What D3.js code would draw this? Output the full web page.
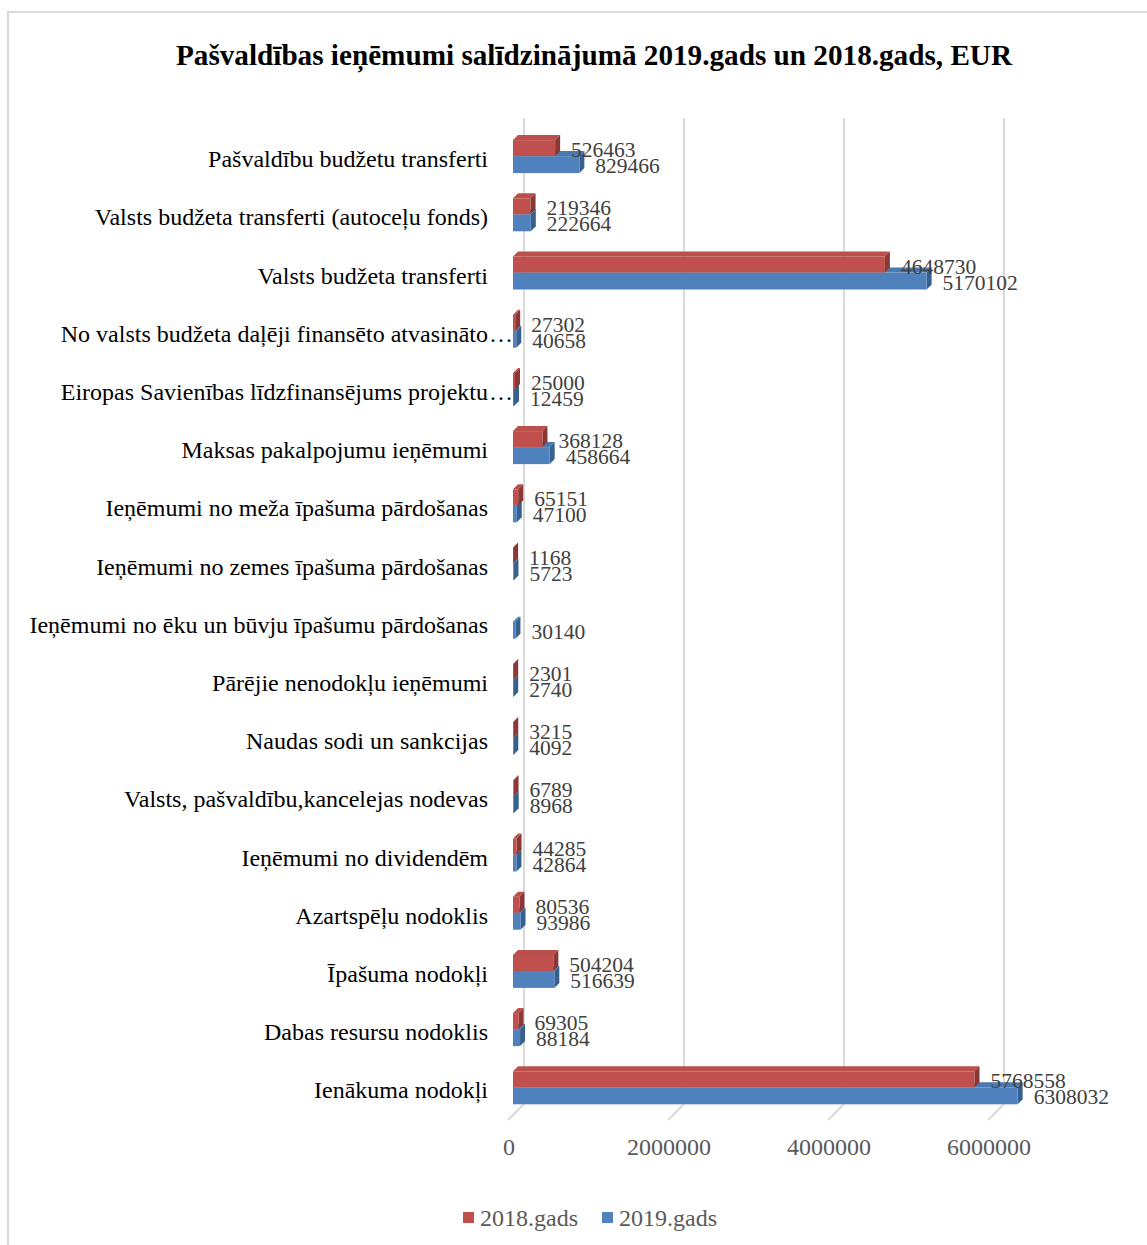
<!DOCTYPE html>
<html>
<head>
<meta charset="utf-8">
<script src="https://cdn.jsdelivr.net/npm/d3@7"></script>
<style>
  body { margin: 0; background: #fff; }
  svg { display: block; font-family: "Liberation Serif", "Times New Roman", serif; }
</style>
</head>
<body>
<div id="chart"></div>
<script>
const categories = [
  "Pašvaldību budžetu transferti",
  "Valsts budžeta transferti (autoceļu fonds)",
  "Valsts budžeta transferti",
  "No valsts budžeta daļēji finansēto atvasināto…",
  "Eiropas Savienības līdzfinansējums projektu…",
  "Maksas pakalpojumu ieņēmumi",
  "Ieņēmumi no meža īpašuma pārdošanas",
  "Ieņēmumi no zemes īpašuma pārdošanas",
  "Ieņēmumi no ēku un būvju īpašumu pārdošanas",
  "Pārējie nenodokļu ieņēmumi",
  "Naudas sodi un sankcijas",
  "Valsts, pašvaldību,kancelejas nodevas",
  "Ieņēmumi no dividendēm",
  "Azartspēļu nodoklis",
  "Īpašuma nodokļi",
  "Dabas resursu nodoklis",
  "Ienākuma nodokļi"
];
const values2018 = [526463, 219346, 4648730, 27302, 25000, 368128, 65151, 1168, null, 2301, 3215, 6789, 44285, 80536, 504204, 69305, 5768558];
const values2019 = [829466, 222664, 5170102, 40658, 12459, 458664, 47100, 5723, 30140, 2740, 4092, 8968, 42864, 93986, 516639, 88184, 6308032];
const xTicks = [0, 2000000, 4000000, 6000000];
const seriesNames = ["2018.gads", "2019.gads"];

const W = 1147, H = 1245;
const svg = d3.select("#chart").append("svg")
  .attr("width", W).attr("height", H)
  .attr("viewBox", "0 0 " + W + " " + H);

// frame
svg.append("rect")
  .attr("x", 8).attr("y", 12)
  .attr("width", 1200).attr("height", 1300)
  .attr("fill", "none").attr("stroke", "#d9d9d9").attr("stroke-width", 2);

svg.append("text")
  .attr("x", 594).attr("y", 65)
  .attr("text-anchor", "middle")
  .attr("font-weight", "bold")
  .attr("font-size", 29.2)
  .attr("fill", "#000")
  .text("Pašvaldības ieņēmumi salīdzinājumā 2019.gads un 2018.gads, EUR");

// 3d depth of bars and of the plot box
const dx = 5, dy = 5;
const wallDx = 11, wallDy = 16;

const x = d3.scaleLinear().domain([0, 6000000]).range([513, 993]);
const y = d3.scaleBand().domain(categories).range([127, 1116.4]);
const rowC = c => y(c) + y.bandwidth() / 2;

const floorY = 1120;
const grid = svg.append("g");
xTicks.forEach(t => {
  const bx = x(t) + wallDx;
  grid.append("line")
    .attr("x1", bx).attr("x2", bx)
    .attr("y1", 118).attr("y2", floorY - wallDy)
    .attr("stroke", "#d9d9d9").attr("stroke-width", 2);
  grid.append("line")
    .attr("x1", bx).attr("y1", floorY - wallDy)
    .attr("x2", x(t) - 5).attr("y2", floorY)
    .attr("stroke", "#d9d9d9").attr("stroke-width", 2);
});

svg.append("g").selectAll("text")
  .data(xTicks).enter().append("text")
  .attr("x", d => x(d) - 4).attr("y", 1155)
  .attr("text-anchor", "middle")
  .attr("font-size", 24)
  .attr("fill", "#595959")
  .text(d => d);

const colors = {
  red: { front: "#C0504D", top: "#b9504c", side: "#8a3735" },
  blue: { front: "#4F81BD", top: "#4a79b1", side: "#36618f" }
};

function bar3d(g, v, yTop, h, col) {
  const x0 = x(0), x1 = x(v);
  g.append("path")
    .attr("d", `M${x0},${yTop}L${x1},${yTop}L${x1 + dx},${yTop - dy}L${x0 + dx},${yTop - dy}Z`)
    .attr("fill", col.top);
  g.append("path")
    .attr("d", `M${x1},${yTop}L${x1 + dx},${yTop - dy}L${x1 + dx},${yTop + h - dy}L${x1},${yTop + h}Z`)
    .attr("fill", col.side);
  g.append("rect")
    .attr("x", x0).attr("y", yTop)
    .attr("width", Math.max(0, x1 - x0)).attr("height", h)
    .attr("fill", col.front);
}

const bars = svg.append("g");
categories.forEach((c, i) => {
  const cy = rowC(c);
  const g = bars.append("g");
  if (values2019[i] != null) bar3d(g, values2019[i], cy, 17, colors.blue);
  if (values2018[i] != null) bar3d(g, values2018[i], cy - 16, 16, colors.red);
});

const labels = svg.append("g")
  .attr("font-size", 21.5).attr("fill", "#404040");
categories.forEach((c, i) => {
  const cy = rowC(c);
  if (values2018[i] != null)
    labels.append("text").attr("x", x(values2018[i]) + 16).attr("y", cy + 1).text(values2018[i]);
  if (values2019[i] != null)
    labels.append("text").attr("x", x(values2019[i]) + 16).attr("y", cy + 17).text(values2019[i]);
});

// category labels; a trailing ellipsis hangs past the label edge
const cat = svg.append("g").attr("font-size", 24).attr("fill", "#000");
categories.forEach(c => {
  const cut = c.endsWith("…");
  cat.append("text")
    .attr("x", 488).attr("y", rowC(c) + 11)
    .attr("text-anchor", "end")
    .text(cut ? c.slice(0, -1) : c);
  if (cut) cat.append("text")
    .attr("x", 489).attr("y", rowC(c) + 11)
    .text("…");
});

// legend
const legend = svg.append("g");
const legendX = [463, 602];
seriesNames.forEach((s, i) => {
  legend.append("rect")
    .attr("x", legendX[i]).attr("y", 1212)
    .attr("width", 11).attr("height", 11)
    .attr("fill", i === 0 ? colors.red.front : colors.blue.front);
  legend.append("text")
    .attr("x", legendX[i] + 17).attr("y", 1226)
    .attr("font-size", 24).attr("fill", "#595959")
    .text(s);
});
</script>
</body>
</html>
